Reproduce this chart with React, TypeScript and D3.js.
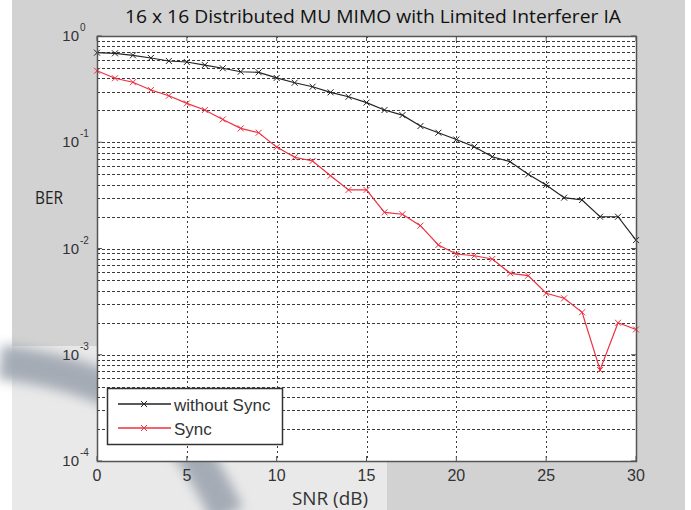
import React from 'react';
import * as d3 from 'd3';

// SNR values (dB)
const snr = d3.range(0, 31);

// BER
const berNoSync = [
  0.697, 0.687, 0.658, 0.621, 0.582, 0.569, 0.533, 0.497, 0.461, 0.455, 0.403,
  0.363, 0.333, 0.295, 0.268, 0.236, 0.201, 0.18, 0.142, 0.123, 0.106, 0.0908,
  0.0731, 0.0656, 0.0499, 0.0396, 0.0301, 0.0286, 0.0199, 0.0199, 0.012,
];
const berSync = [
  0.471, 0.4, 0.367, 0.31, 0.274, 0.232, 0.201, 0.164, 0.135, 0.123, 0.09,
  0.0722, 0.0667, 0.0484, 0.0356, 0.0356, 0.0219, 0.021, 0.0164, 0.0108,
  0.00887, 0.00855, 0.00796, 0.00584, 0.00555, 0.00379, 0.0034, 0.00251,
  0.000718, 0.002, 0.00173,
];

const xTicks = [0, 5, 10, 15, 20, 25, 30];
const yDecades = [0, -1, -2, -3, -4];

const seriesNames = ['without Sync', 'Sync'];
const seriesColors = ['#222222', '#ee3040'];

const W = 691;
const H = 510;
const left = 97;
const right = 636;
const top = 36;
const bottom = 461;

const App = () => {
  const x = d3.scaleLinear().domain([0, 30]).range([left, right]);
  const y = d3.scaleLog().domain([1e-4, 1]).range([bottom, top]);

  const line = d3
    .line<number>()
    .x((_, i) => x(snr[i]))
    .y((d) => y(d));

  // minor log grid: 1..9 x 10^k, borders excluded
  const minorVals: number[] = [];
  for (let k = -4; k < 0; k++) {
    for (let m = 1; m <= 9; m++) {
      const v = m * Math.pow(10, k);
      if (v > 1e-4 && v < 1) minorVals.push(v);
    }
  }

  const series = [berNoSync, berSync];

  const marker = (cx: number, cy: number, color: string, key: string) => (
    <path
      key={key}
      d={`M${cx - 3},${cy - 3}L${cx + 3},${cy + 3}M${cx - 3},${cy + 3}L${cx + 3},${cy - 3}`}
      stroke={color}
      strokeWidth={1}
    />
  );

  return (
    <svg
      width={W}
      height={H}
      style={{ position: 'absolute', left: 0, top: 0, display: 'block' }}
    >
      <defs>
        <filter id="soft" x="-20%" y="-20%" width="140%" height="140%">
          <feGaussianBlur stdDeviation="6" />
        </filter>
      </defs>
      <rect width={W} height={H} fill="#ffffff" />
      <rect x={12} y={0} width={673} height={H} fill="#d2d2d2" />

      {/* faded watermark in lower left */}
      <rect x={12} y={346} width={375} height={164} fill="#e9e9e9" />
      <path
        d="M0,362 C70,370 150,395 190,450 C205,470 215,490 228,515"
        fill="none"
        stroke="#9ea5b0"
        strokeWidth={34}
        filter="url(#soft)"
        opacity={0.9}
      />

      {/* plot area */}
      <rect x={left} y={top} width={right - left} height={bottom - top} fill="#ffffff" />

      {/* horizontal grid */}
      <g stroke="#3a3a3a" strokeWidth={1} strokeDasharray="3,2">
        {minorVals.map((v, i) => (
          <line key={i} x1={left} x2={right} y1={Math.round(y(v)) + 0.5} y2={Math.round(y(v)) + 0.5} />
        ))}
      </g>
      {/* vertical grid */}
      <g stroke="#3a3a3a" strokeWidth={1} strokeDasharray="2,3">
        {xTicks.slice(1, -1).map((t) => (
          <line key={t} x1={Math.round(x(t)) + 0.5} x2={Math.round(x(t)) + 0.5} y1={top} y2={bottom} />
        ))}
      </g>

      {/* ticks */}
      <g stroke="#555" strokeWidth={1}>
        {xTicks.map((t) => (
          <g key={t}>
            <line x1={x(t)} x2={x(t)} y1={bottom} y2={bottom - 5} />
            <line x1={x(t)} x2={x(t)} y1={top} y2={top + 5} />
          </g>
        ))}
        {yDecades.map((k) => (
          <g key={k}>
            <line x1={left} x2={left + 5} y1={y(Math.pow(10, k))} y2={y(Math.pow(10, k))} />
            <line x1={right} x2={right - 5} y1={y(Math.pow(10, k))} y2={y(Math.pow(10, k))} />
          </g>
        ))}
      </g>

      {/* series */}
      {series.map((s, si) => (
        <g key={si}>
          <path d={line(s) || ''} fill="none" stroke={seriesColors[si]} strokeWidth={1.2} />
          {s.map((v, i) => marker(x(snr[i]), y(v), seriesColors[si], `${si}-${i}`))}
        </g>
      ))}

      {/* axes box */}
      <rect
        x={left + 0.5}
        y={top + 0.5}
        width={right - left}
        height={bottom - top}
        fill="none"
        stroke="#555555"
        strokeWidth={1.5}
      />

      {/* x tick labels */}
      <g fontFamily="'Liberation Sans', Arial, sans-serif" fontSize={16} fill="#333" textAnchor="middle">
        {xTicks.map((t) => (
          <text key={t} x={x(t)} y={481}>
            {t}
          </text>
        ))}
      </g>

      {/* y tick labels */}
      <g fontFamily="'Liberation Sans', Arial, sans-serif" fill="#333">
        {yDecades.map((k) => (
          <g key={k}>
            <text x={79} y={y(Math.pow(10, k)) + 5} fontSize={15} textAnchor="end">
              10
            </text>
            <text x={80} y={y(Math.pow(10, k)) - 5} fontSize={10}>
              {k}
            </text>
          </g>
        ))}
      </g>

      {/* legend */}
      <g>
        <rect x={107.5} y={388.5} width={175} height={56} fill="#ffffff" stroke="#333" strokeWidth={1.5} />
        {seriesNames.map((n, i) => {
          const ly = 404 + i * 24;
          return (
            <g key={n}>
              <line x1={118} x2={171} y1={ly} y2={ly} stroke={seriesColors[i]} strokeWidth={1.5} />
              {marker(144, ly, seriesColors[i], `leg-${i}`)}
              <text
                x={174}
                y={ly + 7}
                fontFamily="'Liberation Sans', Arial, sans-serif"
                fontSize={17}
                fill="#333"
              >
                {n}
              </text>
            </g>
          );
        })}
      </g>

      {/* titles */}
      <text
        x={373}
        y={23}
        textAnchor="middle"
        fontFamily="'Open Sans', sans-serif"
        fontSize={18.5}
        fill="#111"
        textLength={496}
        lengthAdjust="spacingAndGlyphs"
      >
        16 x 16 Distributed MU MIMO with Limited Interferer IA
      </text>
      <text
        x={35}
        y={204}
        fontFamily="'Open Sans', sans-serif"
        fontSize={18}
        fill="#222"
        textLength={28}
        lengthAdjust="spacingAndGlyphs"
      >
        BER
      </text>
      <text
        x={330}
        y={505}
        textAnchor="middle"
        fontFamily="'Open Sans', sans-serif"
        fontSize={18}
        fill="#333"
        textLength={76}
        lengthAdjust="spacingAndGlyphs"
      >
        SNR (dB)
      </text>
    </svg>
  );
};

export default App;
